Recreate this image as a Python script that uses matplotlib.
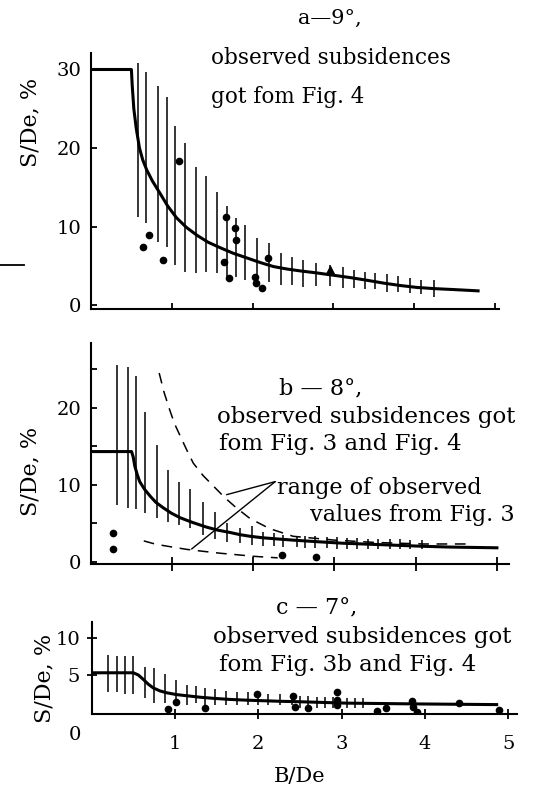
import numpy as np
import matplotlib
matplotlib.use("Agg")
import matplotlib.pyplot as plt
from matplotlib.lines import Line2D

plt.rcParams['font.family'] = ['DejaVu Serif']

# ---- panel a: 9 degrees ----
a_curve_x = [0, 0.50, 0.51, 0.53, 0.56, 0.60, 0.64, 0.69, 0.76, 0.85, 0.95, 1.06, 1.18, 1.31, 1.45, 1.60,
             1.76, 1.93, 2.10, 2.26, 2.42, 2.59, 2.79, 3.00, 3.21, 3.42, 3.62, 3.82, 4.03, 4.24, 4.44, 4.63, 4.81]
a_curve_y = [30, 30, 28.0, 25.0, 22.5, 20.0, 18.5, 17.2, 15.8, 14.3, 12.6, 11.1, 9.9, 8.9, 8.0, 7.3,
             6.6, 6.0, 5.4, 4.9, 4.6, 4.35, 4.1, 3.8, 3.5, 3.15, 2.8, 2.5, 2.25, 2.1, 2.0, 1.9, 1.8]
a_bar_x = [0.58, 0.68, 0.83, 0.94, 1.04, 1.16, 1.30, 1.42, 1.56, 1.68, 1.80, 1.91, 2.05, 2.20,
           2.35, 2.49, 2.63, 2.78, 2.96, 3.12, 3.25, 3.39, 3.52, 3.66, 3.80, 3.95, 4.09, 4.25]
a_bar_top = [30.8, 29.7, 27.9, 26.5, 22.8, 20.6, 17.6, 16.4, 14.4, 12.6, 11.1, 10.2, 8.5, 7.9,
             6.6, 6.1, 5.7, 5.4, 5.1, 4.8, 4.5, 4.2, 4.1, 3.9, 3.7, 3.4, 3.2, 3.2]
a_bar_bot = [11.2, 10.4, 8.0, 7.4, 5.1, 4.2, 4.1, 4.2, 4.1, 3.2, 3.6, 3.2, 2.8, 2.9,
             2.5, 2.5, 2.3, 2.4, 2.4, 2.2, 2.2, 2.0, 2.0, 1.7, 1.7, 1.5, 1.4, 1.0]
a_dot_x = [0.64, 0.72, 0.89, 1.09, 1.67, 1.78, 1.79, 1.65, 1.71, 2.03, 2.04, 2.12, 2.19]
a_dot_y = [7.35, 8.9, 5.7, 18.3, 11.2, 9.8, 8.3, 5.5, 3.5, 3.6, 2.8, 2.2, 6.0]
a_tri_x = [2.96]
a_tri_y = [4.5]

# ---- panel b: 8 degrees ----
b_curve_x = [0, 0.50, 0.52, 0.54, 0.57, 0.60, 0.66, 0.73, 0.80, 0.89, 0.99, 1.10, 1.25, 1.42, 1.56, 1.71,
             1.84, 1.96, 2.12, 2.30, 2.49, 2.78, 3.10, 3.60, 4.09, 4.42, 5.02]
b_curve_y = [14.3, 14.3, 13.6, 12.4, 11.3, 10.4, 9.4, 8.5, 7.7, 7.0, 6.3, 5.7, 5.1, 4.5, 4.1, 3.8,
             3.5, 3.3, 3.1, 2.95, 2.8, 2.6, 2.4, 2.2, 2.0, 1.9, 1.8]
b_upper_x = [0.84, 0.90, 0.97, 1.03, 1.10, 1.18, 1.26, 1.38, 1.51, 1.65, 1.79, 1.96, 2.20, 2.49, 3.00, 3.50, 4.09, 4.67]
b_upper_y = [24.5, 22.0, 19.7, 17.9, 16.3, 14.5, 12.8, 11.2, 9.8, 8.3, 7.0, 5.6, 4.3, 3.3, 2.8, 2.5, 2.3, 2.3]
b_lower_x = [0.65, 0.77, 0.89, 1.03, 1.18, 1.38, 1.59, 1.80, 2.00, 2.30]
b_lower_y = [2.7, 2.35, 2.1, 1.85, 1.6, 1.35, 1.1, 0.9, 0.7, 0.5]
b_bar_x = [0.32, 0.45, 0.55, 0.67, 0.81, 0.95, 1.08, 1.22, 1.38, 1.53, 1.67, 1.84, 1.98, 2.12, 2.25,
           2.36, 2.54, 2.64, 2.76, 2.91, 3.03, 3.15, 3.28, 3.41, 3.53, 3.68, 3.81, 3.93, 4.08]
b_bar_top = [25.6, 25.3, 24.1, 19.5, 15.1, 11.9, 10.4, 9.4, 7.7, 6.4, 5.0, 4.4, 4.6, 3.9, 3.7,
             3.5, 3.4, 3.3, 3.3, 3.2, 3.2, 3.1, 3.1, 3.0, 3.0, 2.9, 2.9, 2.8, 2.8]
b_bar_bot = [7.4, 7.0, 6.8, 6.3, 5.7, 5.2, 4.8, 4.4, 3.5, 2.9, 2.6, 2.4, 2.2, 2.1, 2.0,
             1.9, 1.9, 1.8, 1.8, 1.8, 1.7, 1.7, 1.7, 1.7, 1.6, 1.6, 1.6, 1.6, 1.6]
b_dot_x = [0.27, 0.27, 2.35, 2.77]
b_dot_y = [3.7, 1.6, 0.9, 0.6]

# ---- panel c: 7 degrees ----
c_curve_x = [0, 0.50, 0.56, 0.62, 0.68, 0.74, 0.82, 0.90, 1.02, 1.14, 1.30, 1.46, 1.66, 1.86, 2.26, 2.46, 3.06, 3.84, 4.88]
c_curve_y = [5.3, 5.3, 5.0, 4.4, 3.75, 3.25, 2.85, 2.6, 2.35, 2.2, 2.0, 1.85, 1.7, 1.6, 1.45, 1.4, 1.2, 1.1, 1.0]
c_bar_x = [0.20, 0.30, 0.40, 0.50, 0.64, 0.75, 0.88, 1.01, 1.14, 1.25, 1.36, 1.48, 1.61, 1.74,
           1.88, 2.00, 2.12, 2.26, 2.40, 2.50, 2.60, 2.70, 2.80, 2.90, 3.06, 3.16, 3.26]
c_bar_top = [7.7, 7.6, 7.6, 7.5, 6.1, 5.9, 5.1, 4.3, 3.6, 3.5, 3.2, 3.1, 2.9, 2.7,
             2.7, 2.6, 2.5, 2.4, 2.3, 2.1, 2.1, 2.0, 2.0, 2.0, 1.9, 1.9, 1.9]
c_bar_bot = [2.7, 2.7, 2.5, 2.5, 1.85, 1.2, 1.2, 0.9, 0.9, 1.2, 0.9, 0.9, 0.9, 0.9,
             0.9, 0.9, 0.9, 0.9, 0.9, 0.6, 0.6, 0.6, 0.6, 0.6, 0.6, 0.6, 0.6]
c_dot_x = [0.92, 1.01, 1.36, 1.98, 2.42, 2.44, 2.60, 2.95, 2.95, 2.95, 3.42, 3.53, 3.85, 3.86, 3.91, 4.41, 4.89]
c_dot_y = [0.4, 1.3, 0.5, 2.4, 2.2, 0.7, 0.5, 2.65, 1.6, 0.95, 0.1, 0.6, 1.5, 0.7, 0.05, 1.2, 0.3]

x_ticks = [1, 2, 3, 4, 5]

W, H = 539, 794
fig = plt.figure(figsize=(W / 100, H / 100), dpi=100)


def px_axes(l, t, r, b):
    return fig.add_axes([l / W, 1 - b / H, (r - l) / W, (b - t) / H])


def fig_text(x, y, s, **kw):
    kw.setdefault('va', 'center')
    return fig.text(x / W, 1 - y / H, s, **kw)


def style(ax):
    for side in ('top', 'right'):
        ax.spines[side].set_visible(False)
    for side in ('left', 'bottom'):
        ax.spines[side].set_linewidth(1.5)
    ax.tick_params(labelsize=14, width=1.3)


def draw(ax, cx, cy, bx, btop, bbot):
    ax.vlines(bx, bbot, btop, colors='black', linewidth=1.1)
    ax.plot(cx, cy, color='black', linewidth=2.2, solid_capstyle='butt', solid_joinstyle='round')


# panel a
ax1 = px_axes(91, 53, 499, 309)
style(ax1)
ax1.set_xlim(0, 5.05)
ax1.set_ylim(-0.5, 32.1)
draw(ax1, a_curve_x, a_curve_y, a_bar_x, a_bar_top, a_bar_bot)
ax1.plot(a_dot_x, a_dot_y, 'o', color='black', markersize=4.5)
ax1.plot(a_tri_x, a_tri_y, '^', color='black', markersize=6)
ax1.set_xticks(x_ticks)
ax1.set_xticklabels([])
ax1.tick_params(axis='x', direction='in', length=4)
ax1.set_yticks([0, 10, 20, 30])
ax1.tick_params(axis='y', direction='in', length=4, pad=7)

# panel b
ax2 = px_axes(91, 343, 509, 564)
style(ax2)
ax2.set_xlim(0, 5.15)
ax2.set_ylim(-0.3, 28.4)
draw(ax2, b_curve_x, b_curve_y, b_bar_x, b_bar_top, b_bar_bot)
ax2.plot(b_upper_x, b_upper_y, color='black', linewidth=1.1, dashes=(7, 5))
ax2.plot(b_lower_x, b_lower_y, color='black', linewidth=1.1, dashes=(7, 5))
ax2.plot(b_dot_x, b_dot_y, 'o', color='black', markersize=4.5)
ax2.set_xticks(x_ticks)
ax2.set_xticklabels([])
ax2.tick_params(axis='x', direction='inout', length=10)
ax2.set_yticks([0, 10, 20])
ax2.set_yticks([5, 15, 25], minor=True)
ax2.tick_params(axis='y', which='both', direction='in', length=4, pad=7, width=1.3)
for end in [(1.67, 8.7), (1.24, 1.65)]:
    ax2.annotate('', xy=end, xytext=(2.27, 10.4),
                 arrowprops=dict(arrowstyle='-', color='black', lw=1.0,
                                 shrinkA=0, shrinkB=0))

# panel c
ax3 = px_axes(91.7, 621.7, 516.5, 713.5)
style(ax3)
ax3.set_xlim(0, 5.1)
ax3.set_ylim(-0.2, 12.2)
draw(ax3, c_curve_x, c_curve_y, c_bar_x, c_bar_top, c_bar_bot)
ax3.plot(c_dot_x, c_dot_y, 'o', color='black', markersize=4.5)
ax3.set_xticks(x_ticks)
ax3.tick_params(axis='x', direction='inout', length=7, pad=12)
ax3.set_yticks([5, 10])
ax3.tick_params(axis='y', direction='inout', length=7, pad=5)

# axis captions
for y in (122, 471):
    fig_text(30, y, 'S/De, %', rotation=90, ha='center', fontsize=16)
fig_text(44, 678, 'S/De, %', rotation=90, ha='center', fontsize=16)
fig_text(75, 735, '0', ha='center', fontsize=14)
fig_text(300, 776, 'B/De', ha='center', fontsize=15)

# panel notes
fig_text(330, 18, 'a\u20149°,', ha='center', fontsize=15)
fig_text(211, 58, 'observed subsidences', ha='left', fontsize=15.5)
fig_text(211, 97, 'got fom Fig. 4', ha='left', fontsize=15.5)

fig_text(321, 388, 'b \u2014 8°,', ha='center', fontsize=16)
fig_text(217, 417, 'observed subsidences got', ha='left', fontsize=16.5)
fig_text(219, 444, 'fom Fig. 3 and Fig. 4', ha='left', fontsize=16.5)
fig_text(277, 488, 'range of observed', ha='left', fontsize=16)
fig_text(515, 515, 'values from Fig. 3', ha='right', fontsize=16)

fig_text(317, 608, 'c \u2014 7°,', ha='center', fontsize=16)
fig_text(213, 637, 'observed subsidences got', ha='left', fontsize=16.5)
fig_text(219, 665, 'fom Fig. 3b and Fig. 4', ha='left', fontsize=16.5)

# stray rule at the left edge of the page
fig.add_artist(Line2D([0, 24 / W], [1 - 265 / H, 1 - 265 / H], color='black', linewidth=1.3))

fig.savefig('out.png', dpi=100, facecolor='white')
